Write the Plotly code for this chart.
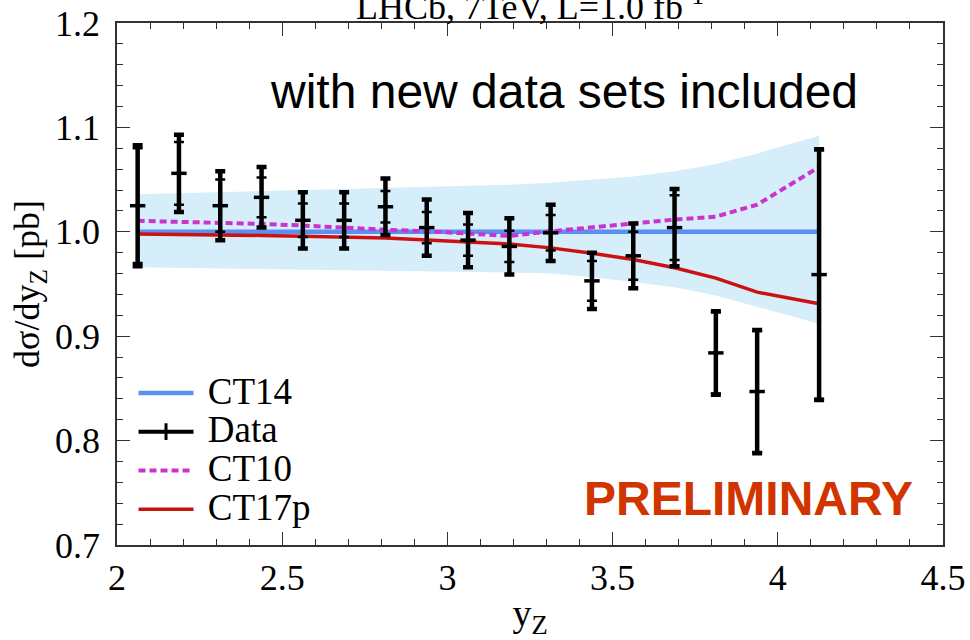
import plotly.graph_objects as go

# ---- data ----
y_z = [2.0625, 2.1875, 2.3125, 2.4375, 2.5625, 2.6875, 2.8125, 2.9375, 3.0625,
       3.1875, 3.3125, 3.4375, 3.5625, 3.6875, 3.8125, 3.9375, 4.125]
data_val = [1.025, 1.056, 1.025, 1.033, 1.011, 1.011, 1.024, 1.004, 0.992,
            0.986, 0.999, 0.953, 0.977, 1.004, 0.884, 0.847, 0.959]
err_stat = [0.055, 0.030, 0.025, 0.019, 0.016, 0.016, 0.015, 0.015, 0.015,
            0.015, 0.017, 0.019, 0.023, 0.031, 0.039, 0.058, 0.119]
err_total = [0.058, 0.037, 0.033, 0.029, 0.027, 0.027, 0.027, 0.027, 0.026,
             0.027, 0.027, 0.027, 0.031, 0.037, 0.040, 0.059, 0.120]
ct14 = [1.0, 1.0, 1.0, 1.0, 1.0, 1.0, 1.0, 1.0, 1.0,
        1.0, 1.0, 1.0, 1.0, 1.0, 1.0, 1.0, 1.0]
ct14_up = [1.036, 1.037, 1.038, 1.039, 1.040, 1.041, 1.042, 1.043, 1.044,
           1.045, 1.047, 1.050, 1.053, 1.058, 1.065, 1.075, 1.092]
ct14_lo = [0.966, 0.9655, 0.965, 0.9645, 0.964, 0.9635, 0.963, 0.9625, 0.962,
           0.961, 0.960, 0.9565, 0.952, 0.947, 0.939, 0.928, 0.912]
ct10 = [1.0105, 1.0097, 1.009, 1.0076, 1.006, 1.0037, 1.002, 1.0005, 0.9986,
        0.996, 1.0005, 1.0043, 1.0076, 1.0117, 1.0145, 1.026, 1.062]
ct17p = [0.998, 0.9977, 0.9973, 0.9965, 0.9957, 0.9947, 0.9941, 0.9922, 0.9906,
         0.9884, 0.9846, 0.9795, 0.9734, 0.9655, 0.9556, 0.9422, 0.931]

x_ticks = [2, 2.5, 3, 3.5, 4, 4.5]
y_ticks = [0.7, 0.8, 0.9, 1.0, 1.1, 1.2]

SERIF = "Liberation Serif"
SANS = "Liberation Sans"
BAND = "#d6eefa"
BLUE = "#5b8ff0"
MAGENTA = "#cc33cc"
RED = "#cc1111"


def leg(t):
    return '<span style="font-size:37px"> ' + t + '</span>'


fig = go.Figure()

# uncertainty band
fig.add_trace(go.Scatter(x=y_z, y=ct14_lo, mode="lines", line=dict(width=0, color=BAND),
                         showlegend=False, hoverinfo="skip"))
fig.add_trace(go.Scatter(x=y_z, y=ct14_up, mode="lines", line=dict(width=0, color=BAND),
                         fill="tonexty", fillcolor=BAND, showlegend=False, hoverinfo="skip"))

fig.add_trace(go.Scatter(x=y_z, y=ct14, mode="lines", name=leg("CT14"), legendrank=1,
                         line=dict(color=BLUE, width=4.5)))
fig.add_trace(go.Scatter(x=y_z, y=ct10, mode="lines", name=leg("CT10"), legendrank=3,
                         line=dict(color=MAGENTA, width=4, dash="7px,4px")))
fig.add_trace(go.Scatter(x=y_z, y=ct17p, mode="lines", name=leg("CT17p"), legendrank=4,
                         line=dict(color=RED, width=3.5)))

# data: total uncertainty
fig.add_trace(go.Scatter(x=y_z, y=data_val, mode="markers", showlegend=False,
                         marker=dict(size=1, color="black", opacity=0),
                         error_y=dict(type="data", array=err_total, color="black",
                                      thickness=4.5, width=5)))
# data: statistical uncertainty + central value
fig.add_trace(go.Scatter(x=y_z, y=data_val, mode="markers", showlegend=False,
                         marker=dict(symbol="line-ew", size=11, color="black",
                                     line=dict(width=3.5, color="black")),
                         error_y=dict(type="data", array=err_stat, color="black",
                                      thickness=2.5, width=5)))
# legend entry for data
fig.add_trace(go.Scatter(x=[None], y=[None], mode="lines+markers", name=leg("Data"),
                         legendrank=2, line=dict(color="black", width=4),
                         marker=dict(symbol="line-ns", size=12, color="black",
                                     line=dict(width=3, color="black"))))

axis_common = dict(
    showline=True, linecolor="#333333", linewidth=1.5, mirror="allticks",
    ticks="inside", ticklen=13, tickwidth=1.2, tickcolor="#333333",
    showgrid=False, zeroline=False, automargin=False,
    tickfont=dict(family=SERIF, size=36, color="black"),
)

fig.update_xaxes(range=[2, 4.5], tickvals=x_ticks, ticktext=[f"{v:g}" for v in x_ticks],
                 minor=dict(dtick=0.1, tick0=2, ticks="inside", ticklen=6,
                            tickcolor="#333333", tickwidth=1),
                 title=dict(text="y<sub>Z</sub>", font=dict(family=SERIF, size=38, color="black"),
                            standoff=5),
                 **axis_common)
fig.update_yaxes(range=[0.7, 1.2], tickvals=y_ticks, ticktext=[f"{v:.1f}" for v in y_ticks],
                 minor=dict(dtick=0.02, tick0=0.7, ticks="inside", ticklen=6,
                            tickcolor="#333333", tickwidth=1),
                 title=dict(text="dσ/dy<sub>Z</sub> [pb]", font=dict(family=SERIF, size=36, color="black"),
                            standoff=4),
                 ticklabelstandoff=8,
                 **axis_common)

fig.update_layout(
    width=970, height=640,
    margin=dict(l=117, r=27, t=23, b=95),
    paper_bgcolor="white", plot_bgcolor="white",
    showlegend=True,
    legend=dict(x=0.02, y=0.338, xanchor="left", yanchor="top",
                bgcolor="rgba(0,0,0,0)", font=dict(family=SERIF, size=27.5, color="black"),
                itemwidth=55, traceorder="normal"),
    annotations=[
        dict(text="LHCb, 7TeV, L=1.0 fb<sup>-1</sup>", xref="paper", yref="paper",
             x=0.5, y=0.9885, xanchor="center", yanchor="bottom", showarrow=False,
             font=dict(family=SERIF, size=36, color="black")),
        dict(text="with new data sets included", xref="paper", yref="paper",
             x=0.541, y=0.868, xanchor="center", yanchor="middle", showarrow=False,
             font=dict(family=SANS, size=48, color="black")),
        dict(text="<b>PRELIMINARY</b>", xref="paper", yref="paper",
             x=0.765, y=0.09, xanchor="center", yanchor="middle", showarrow=False,
             font=dict(family=SANS, size=48, color="#d03500")),
    ],
)

fig.write_html("out.html")
